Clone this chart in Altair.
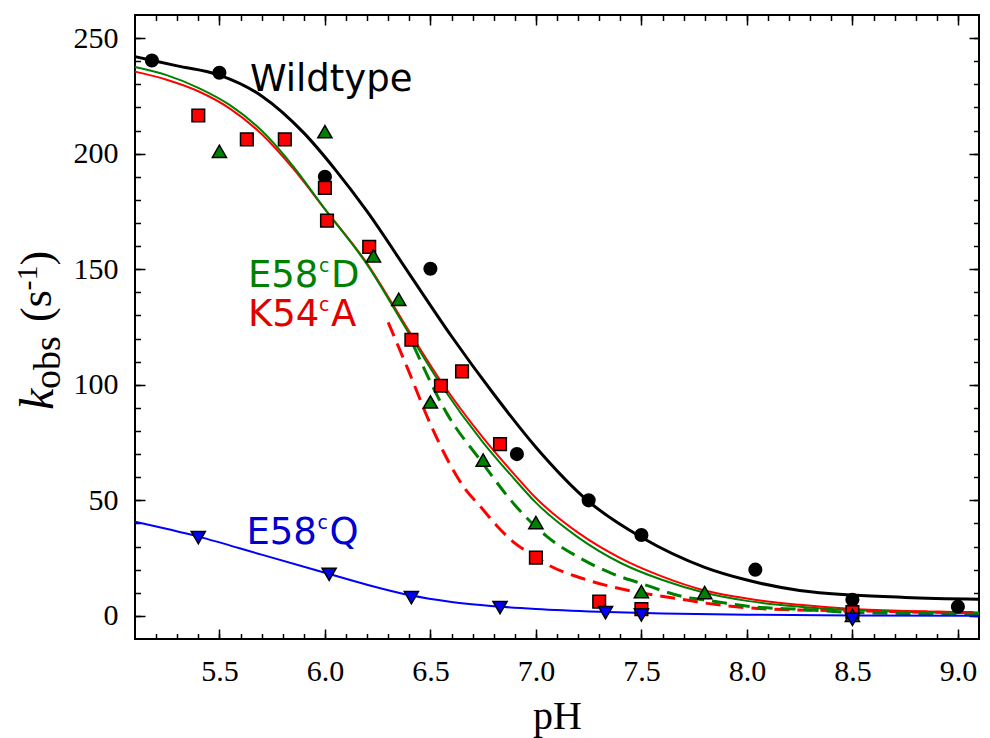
import altair as alt
import pandas as pd

# ---------------- measured points ----------------
wt_ph = [5.18, 5.50, 6.00, 6.50, 6.91, 7.25, 7.50, 8.04, 8.50, 9.00]
wt_k = [240.3, 235.0, 190.0, 150.2, 70.0, 50.0, 35.0, 20.0, 7.0, 4.0]

d_ph = [5.50, 6.00, 6.23, 6.35, 6.50, 6.75, 7.00, 7.50, 7.80, 8.50]
d_k = [201.0, 209.5, 155.8, 137.0, 92.6, 67.4, 40.4, 10.5, 10.1, 0.2]

a_ph = [5.40, 5.63, 5.81, 6.00, 6.01, 6.21, 6.41, 6.55, 6.65, 6.83, 7.00, 7.30, 7.50, 8.50]
a_k = [216.5, 206.2, 206.2, 185.2, 171.0, 159.7, 119.5, 99.6, 105.8, 74.3, 25.2, 6.2, 2.9, 1.6]

q_ph = [5.40, 6.02, 6.41, 6.83, 7.33, 7.50, 8.50]
q_k = [33.9, 18.0, 7.9, 3.6, 1.4, 0.4, -1.5]

# ---------------- fitted curves ----------------
wt_fit_ph = [5.1, 5.3, 5.5, 5.7, 5.9, 6.05, 6.2, 6.4, 6.6, 6.8, 7.0, 7.25, 7.5, 7.8, 8.0, 8.25, 8.5, 8.75, 9.1]
wt_fit_k = [242.0, 238.0, 234.0, 225.0, 209.0, 193.0, 175.0, 148.0, 121.0, 96.0, 73.0, 49.5, 34.0, 21.0, 15.5, 11.0, 9.0, 8.0, 7.2]

d_fit_ph = [5.1, 5.25, 5.4, 5.55, 5.7, 5.85, 6.0, 6.2, 6.4, 6.55, 6.75, 6.9, 7.0, 7.2, 7.4, 7.6, 7.8, 8.0, 8.25, 8.5, 8.8, 9.1]
d_fit_k = [237.5, 234.0, 228.5, 221.0, 210.0, 194.5, 176.0, 152.0, 122.0, 100.0, 75.0, 59.0, 49.0, 34.0, 23.0, 15.5, 10.0, 6.5, 4.0, 2.5, 1.6, 1.2]

a_fit_ph = [5.1, 5.25, 5.4, 5.55, 5.7, 5.85, 6.0, 6.2, 6.4, 6.55, 6.75, 6.9, 7.0, 7.2, 7.4, 7.6, 7.8, 8.0, 8.25, 8.5, 8.8, 9.1]
a_fit_k = [235.5, 232.0, 227.0, 219.5, 208.5, 193.5, 176.0, 152.5, 123.0, 101.5, 77.0, 61.0, 51.0, 36.0, 25.0, 17.0, 11.0, 7.5, 4.8, 3.0, 2.0, 1.5]

d_dash_ph = [6.42, 6.58, 6.74, 6.9, 7.05, 7.21, 7.37, 7.5, 7.69, 7.83, 8.02, 8.26, 8.5, 8.8, 9.1]
d_dash_k = [117.0, 87.3, 67.0, 48.0, 34.5, 25.0, 18.0, 14.0, 8.5, 6.5, 4.0, 2.8, 1.5, 1.0, 0.7]

a_dash_ph = [6.30, 6.39, 6.50, 6.66, 6.74, 6.82, 6.90, 7.0, 7.05, 7.21, 7.45, 7.69, 7.83, 8.1, 8.5, 8.8, 9.1]
a_dash_k = [127.0, 107.5, 83.0, 55.5, 47.0, 38.5, 31.5, 25.5, 22.5, 16.5, 10.8, 7.2, 5.2, 3.0, 2.2, 1.7, 1.4]

q_fit_ph = [5.1, 5.4, 5.7, 6.0, 6.2, 6.4, 6.6, 6.8, 7.0, 7.3, 7.6, 8.0, 8.5, 9.1]
q_fit_k = [40.7, 34.3, 26.5, 18.7, 13.5, 9.0, 6.0, 4.2, 3.0, 1.8, 1.0, 0.5, 0.2, 0.1]

# ---------------- axis ticks ----------------
x_major = [5.5, 6.0, 6.5, 7.0, 7.5, 8.0, 8.5, 9.0]
x_minor = [round(5.2 + 0.1 * i, 1) for i in range(39)]
y_major = [0, 50, 100, 150, 200, 250]
y_minor = list(range(0, 260, 10))

XS = alt.Scale(domain=[5.1, 9.1], nice=False, zero=False)
YS = alt.Scale(domain=[-10, 260], nice=False, zero=False)

SERIF = "Liberation Serif, Times New Roman, serif"
SANS = "DejaVu Sans"

ax_x_main = alt.Axis(orient="bottom", values=x_major, format=".1f", ticks=False, tickSize=0,
                     domain=False, grid=False, labelFont=SERIF, labelFontSize=30,
                     labelColor="black", labelPadding=17, labelFlush=False,
                     title="pH", titleFont=SERIF, titleFontSize=40, titleFontWeight="normal",
                     titleColor="black", titleY=89, titleBaseline="alphabetic")
ax_y_main = alt.Axis(orient="left", values=y_major, ticks=False, tickSize=0, domain=False,
                     grid=False, labelFont=SERIF, labelFontSize=30, labelColor="black",
                     labelPadding=17, labelFlush=False, title=None)


def tick_axis(orient, values, size):
    return alt.Axis(orient=orient, values=values, offset=-size, tickSize=size, tickWidth=1.5,
                    tickColor="black", labels=False, domain=False, grid=False, title=None)


def curve(ph, k, color, width, dash=None, xaxis=None, yaxis=None):
    df = pd.DataFrame({"pH": ph, "k": k})
    props = dict(color=color, strokeWidth=width, interpolate="monotone")
    if dash:
        props["strokeDash"] = dash
    return alt.Chart(df).mark_line(**props).encode(
        x=alt.X("pH:Q", scale=XS, axis=xaxis),
        y=alt.Y("k:Q", scale=YS, axis=yaxis),
    )


def points(ph, k, shape, fill, size, stroke=None):
    df = pd.DataFrame({"pH": ph, "k": k})
    props = dict(shape=shape, filled=True, fill=fill, size=size, opacity=1)
    if stroke:
        props["stroke"] = stroke
        props["strokeWidth"] = 1.5
    else:
        props["strokeWidth"] = 0
    return alt.Chart(df).mark_point(**props).encode(
        x=alt.X("pH:Q", scale=XS, axis=None),
        y=alt.Y("k:Q", scale=YS, axis=None),
    )


def label_part(text, ph, k, color, size=37, dx=0, dy=0):
    df = pd.DataFrame({"pH": [ph], "k": [k], "t": [text]})
    return alt.Chart(df).mark_text(font=SANS, fontSize=size, color=color, align="left",
                                   baseline="alphabetic", dx=dx, dy=dy).encode(
        x=alt.X("pH:Q", scale=XS, axis=None),
        y=alt.Y("k:Q", scale=YS, axis=None),
        text="t:N",
    )


def mutant_label(prefix, suffix, ph, k, color):
    return [
        label_part(prefix, ph, k, color),
        label_part("c", ph, k, color, size=19, dx=71, dy=-15),
        label_part(suffix, ph, k, color, dx=83),
    ]


def ytitle(text, px, py, size, italic=False):
    df = pd.DataFrame({"t": [text]})
    props = dict(font=SERIF, fontSize=size, color="black", align="left",
                 baseline="alphabetic", angle=270)
    if italic:
        props["fontStyle"] = "italic"
    return alt.Chart(df).mark_text(**props).encode(
        x=alt.value(px), y=alt.value(py), text="t:N")


GREEN = "#008000"
RED = "#ff0000"
BLUE = "#0000ff"

layers = [
    curve(wt_fit_ph, wt_fit_k, "black", 3, xaxis=ax_x_main, yaxis=ax_y_main),
    curve(a_fit_ph, a_fit_k, RED, 2, xaxis=tick_axis("bottom", x_major, 10),
          yaxis=tick_axis("left", y_major, 10)),
    curve(d_fit_ph, d_fit_k, GREEN, 2, xaxis=tick_axis("bottom", x_minor, 5.5),
          yaxis=tick_axis("left", y_minor, 5.5)),
    curve(a_dash_ph, a_dash_k, RED, 3, dash=[15, 8], xaxis=tick_axis("top", x_major, 10),
          yaxis=tick_axis("right", y_major, 10)),
    curve(d_dash_ph, d_dash_k, GREEN, 3, dash=[15, 8], xaxis=tick_axis("top", x_minor, 5.5),
          yaxis=tick_axis("right", y_minor, 5.5)),
    curve(q_fit_ph, q_fit_k, BLUE, 2),
    points(wt_ph, wt_k, "circle", "black", 200),
    points(a_ph, a_k, "square", RED, 160, stroke="black"),
    points(d_ph, d_k, "triangle-up", GREEN, 200, stroke="black"),
    points(q_ph, q_k, "triangle-down", BLUE, 200, stroke="black"),
    label_part("Wildtype", 5.645, 227.3, "black"),
]
layers += mutant_label("E58", "D", 5.635, 142.1, "#008000")
layers += mutant_label("K54", "A", 5.635, 125.5, "#e00000")
layers += mutant_label("E58", "Q", 5.628, 31.0, "#0000d0")
layers += [
    ytitle("k", -82, 395, 48, italic=True),
    ytitle("obs", -75, 374, 38),
    ytitle("(s", -84, 307, 44),
    ytitle("-1", -98, 275.5, 30),
    ytitle(")", -84, 250.5, 44),
]

chart = alt.layer(*layers).resolve_axis(x="independent", y="independent").properties(
    width=844, height=624,
    padding={"left": 135, "top": 15, "right": 11, "bottom": 99},
    autosize=alt.AutoSizeParams(type="none"),
).configure_view(stroke="black", strokeWidth=2)

chart.save("out.html", embed_options={"renderer": "svg", "actions": False})
